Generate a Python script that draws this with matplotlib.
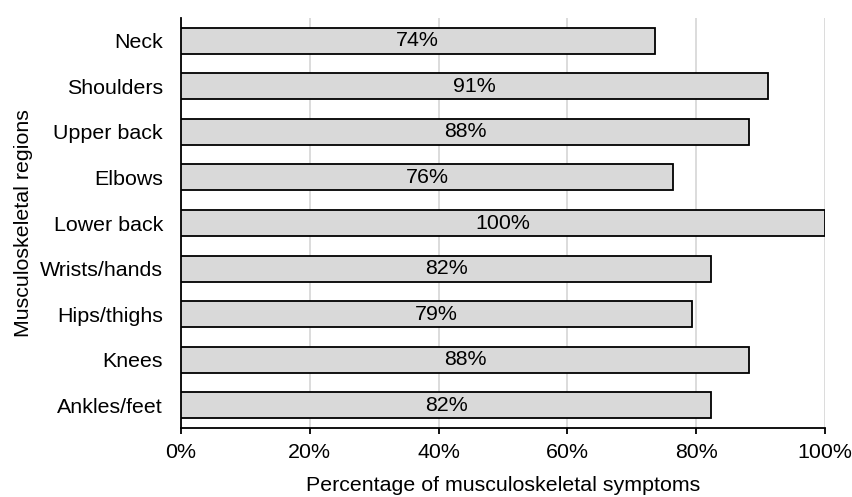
import numpy as np
import matplotlib.pyplot as plt

plt.rcParams['font.family'] = ['Liberation Sans', 'DejaVu Sans']

# respondents reporting symptoms, out of 34
regions = ["Neck", "Shoulders", "Upper back", "Elbows", "Lower back",
           "Wrists/hands", "Hips/thighs", "Knees", "Ankles/feet"]
counts = [25, 31, 30, 26, 34, 28, 27, 30, 28]
total = 34

pct = np.array(counts) / total * 100
ticks = [0, 20, 40, 60, 80, 100]
FS = 15.4


def main():
    fig = plt.figure(figsize=(8.53, 4.97), dpi=100)
    ax = fig.add_axes([0.2122, 0.1388, 0.7550, 0.8250])

    y = np.arange(len(regions))
    ax.barh(y, pct, height=0.57, color="#d9d9d9", edgecolor="black",
            linewidth=1.3, zorder=3)

    for yi, p in zip(y, pct):
        ax.text(p / 2, yi, "%d%%" % round(p), ha="center", va="center",
                fontsize=FS, zorder=4)

    ax.set_xlim(0, 100)
    ax.set_ylim(len(regions) - 0.5, -0.5)
    ax.set_xticks(ticks)
    ax.set_xticklabels(["%d%%" % t for t in ticks], fontsize=FS)
    ax.set_yticks(y)
    ax.set_yticklabels(regions, fontsize=FS)
    ax.tick_params(axis="y", length=0, pad=13)
    ax.tick_params(axis="x", length=4.5, width=1.3, pad=6.5)

    ax.xaxis.grid(True, color="#d9d9d9", linewidth=1.3, zorder=0)
    ax.set_axisbelow(True)
    for s in ["top", "right"]:
        ax.spines[s].set_visible(False)
    ax.spines["left"].set_linewidth(1.3)
    ax.spines["bottom"].set_linewidth(1.3)

    ax.set_xlabel("Percentage of musculoskeletal symptoms", fontsize=FS, labelpad=10)
    ax.set_ylabel("Musculoskeletal regions", fontsize=FS, labelpad=5)

    fig.savefig("out.png", dpi=100)


if __name__ == "__main__":
    main()
